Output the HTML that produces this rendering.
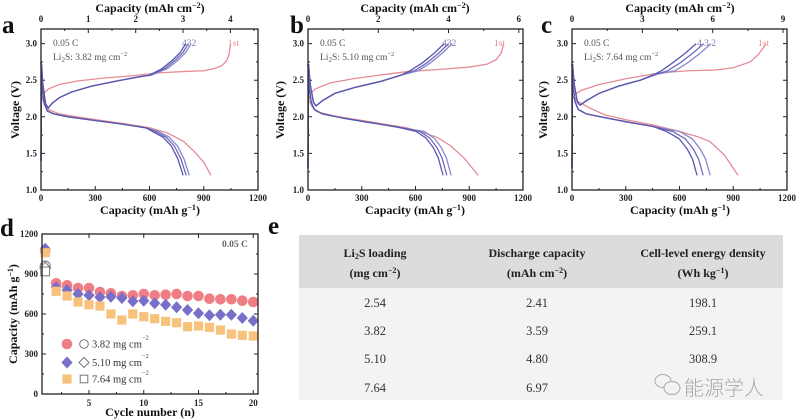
<!DOCTYPE html>
<html><head><meta charset="utf-8"><style>
html,body{margin:0;padding:0;background:#fff;}
svg{display:block;font-family:"Liberation Serif","Noto Serif CJK SC",serif;}
.t{font-size:9px;font-weight:bold;fill:#222;}
.lab{font-size:12px;font-weight:bold;fill:#111;}
.let{font-size:25px;font-weight:bold;fill:#111;}
.in{font-size:9.5px;fill:#555;}
.bl{fill:none;stroke-width:1.3;vector-effect:non-scaling-stroke;}
.ax{fill:none;stroke:#222;stroke-width:1.3;}
.tk{stroke:#222;stroke-width:1;}
.th{font-size:12px;font-weight:bold;fill:#222;}
.td{font-size:12.5px;fill:#333;}
</style></head><body>
<svg width="800" height="420" viewBox="0 0 800 420" xmlns="http://www.w3.org/2000/svg">
<defs>
<circle id="mc" r="5.3" fill="#ef7e84"/>
<polygon id="md" points="0,-6 5.6,0 0,6 -5.6,0" fill="#7870c8"/>
<rect id="ms" x="-4.6" y="-4.6" width="9.2" height="9.2" fill="#f7c27c"/>
</defs>

<!-- ============ PANEL A ============ -->
<text class="let" x="2" y="33">a</text>
<text class="lab" x="150" y="12" text-anchor="middle">Capacity (mAh cm<tspan dy="-4" font-size="8">−2</tspan><tspan dy="4">)</tspan></text>
<g class="t" text-anchor="middle">
<text x="41" y="22">0</text><text x="88.3" y="22">1</text><text x="135.7" y="22">2</text><text x="183" y="22">3</text><text x="230.4" y="22">4</text>
<text x="41" y="201">0</text><text x="95.25" y="201">300</text><text x="149.5" y="201">600</text><text x="203.75" y="201">900</text><text x="258" y="201">1200</text>
</g>
<g class="t" text-anchor="end">
<text x="37" y="193">1.0</text><text x="37" y="156.4">1.5</text><text x="37" y="119.8">2.0</text><text x="37" y="83.2">2.5</text><text x="37" y="46.6">3.0</text>
</g>
<text class="lab" x="150" y="214" text-anchor="middle">Capacity (mAh g<tspan dy="-4" font-size="8">−1</tspan><tspan dy="4">)</tspan></text>
<text class="lab" transform="translate(19,110) rotate(-90)" text-anchor="middle">Voltage (V)</text>
<path class="tk" d="M41,190v-4M95.25,190v-4M149.5,190v-4M203.75,190v-4M68.1,190v-2M122.4,190v-2M176.6,190v-2M230.9,190v-2
M88.3,29v4M135.7,29v4M183,29v4M230.4,29v4M64.7,29v2M112,29v2M159.4,29v2M206.7,29v2M254,29v2
M41,153.4h4M41,116.8h4M41,80.2h4M41,43.6h4M41,171.7h2M41,135.1h2M41,98.5h2M41,61.9h2
M258,153.4h-4M258,116.8h-4M258,80.2h-4M258,43.6h-4M258,171.7h-2M258,135.1h-2M258,98.5h-2M258,61.9h-2"/>
<text class="in" x="53" y="46">0.05 C</text>
<text class="in" x="53" y="60">Li<tspan dy="2" font-size="7">2</tspan><tspan dy="-2">S: 3.82 mg cm</tspan><tspan dy="-4" font-size="6.5">−2</tspan></text>
<text x="182" y="46" font-size="9.5" fill="#7a78b8">432</text>
<text x="228" y="46" font-size="9.5" fill="#e8909a">1st</text>
<g transform="translate(41,190) scale(0.180833,-73.18) translate(0,-1)">
<path class="bl" stroke="#e58c96" d="M0,2.22 L15,2.32 L40,2.38 L100,2.44 L200,2.49 L350,2.53 L500,2.56 L650,2.6 L800,2.62 L900,2.63 L960,2.66 L1000,2.7 L1025,2.76 L1040,2.85 L1048,3.0"/>
<path class="bl" stroke="#e58c96" d="M0,2.3 L15,2.2 L40,2.1 L100,2.04 L250,1.98 L450,1.91 L600,1.85 L700,1.78 L790,1.66 L850,1.52 L900,1.38 L940,1.2"/>
<path class="bl" stroke="#8b87cc" d="M0,1.4 L3,2.72 L10,2.45 L25,2.18 L40,2.12 L60,2.18 L100,2.26 L170,2.34 L280,2.42 L420,2.49 L550,2.55 L610,2.57 L700,2.66 L760,2.78 L800,2.88 L830,3.0"/>
<path class="bl" stroke="#6e6bbd" d="M0,1.4 L3,2.72 L10,2.45 L25,2.18 L40,2.12 L60,2.18 L100,2.26 L170,2.34 L280,2.42 L420,2.49 L550,2.55 L605,2.57 L685,2.66 L745,2.78 L785,2.88 L815,3.0"/>
<path class="bl" stroke="#5a58ad" d="M0,1.4 L3,2.72 L10,2.45 L25,2.18 L40,2.12 L60,2.18 L100,2.26 L170,2.34 L280,2.42 L420,2.49 L550,2.55 L600,2.57 L670,2.66 L730,2.78 L770,2.88 L800,3.0"/>
<path class="bl" stroke="#8b87cc" d="M0,2.75 L6,2.4 L18,2.18 L35,2.08 L70,2.04 L150,2.0 L300,1.95 L450,1.9 L580,1.85 L650,1.8 L710,1.72 L755,1.6 L790,1.43 L820,1.2"/>
<path class="bl" stroke="#6e6bbd" d="M0,2.75 L6,2.4 L18,2.18 L35,2.08 L70,2.04 L150,2.0 L300,1.95 L450,1.9 L580,1.85 L633,1.8 L693,1.72 L738,1.6 L773,1.43 L803,1.2"/>
<path class="bl" stroke="#5a58ad" d="M0,2.75 L6,2.4 L18,2.18 L35,2.08 L70,2.04 L150,2.0 L300,1.95 L450,1.9 L580,1.85 L616,1.8 L676,1.72 L721,1.6 L756,1.43 L786,1.2"/>
</g>
<rect class="ax" x="41" y="29" width="217" height="161"/>

<!-- ============ PANEL B ============ -->
<text class="let" x="290" y="33">b</text>
<text class="lab" x="415" y="12" text-anchor="middle">Capacity (mAh cm<tspan dy="-4" font-size="8">−2</tspan><tspan dy="4">)</tspan></text>
<g class="t" text-anchor="middle">
<text x="308" y="22">0</text><text x="378.3" y="22">2</text><text x="448.5" y="22">4</text><text x="518.8" y="22">6</text>
<text x="308" y="201">0</text><text x="361.75" y="201">300</text><text x="415.5" y="201">600</text><text x="469.25" y="201">900</text><text x="523" y="201">1200</text>
</g>
<g class="t" text-anchor="end">
<text x="304" y="193">1.0</text><text x="304" y="156.4">1.5</text><text x="304" y="119.8">2.0</text><text x="304" y="83.2">2.5</text><text x="304" y="46.6">3.0</text>
</g>
<text class="lab" x="415" y="214" text-anchor="middle">Capacity (mAh g<tspan dy="-4" font-size="8">−1</tspan><tspan dy="4">)</tspan></text>
<text class="lab" transform="translate(284,110) rotate(-90)" text-anchor="middle">Voltage (V)</text>
<path class="tk" d="M308,190v-4M361.75,190v-4M415.5,190v-4M469.25,190v-4M334.9,190v-2M388.6,190v-2M442.4,190v-2M496.1,190v-2
M378.3,29v4M448.5,29v4M518.8,29v4M343.1,29v2M413.4,29v2M483.7,29v2
M308,153.4h4M308,116.8h4M308,80.2h4M308,43.6h4M308,171.7h2M308,135.1h2M308,98.5h2M308,61.9h2
M523,153.4h-4M523,116.8h-4M523,80.2h-4M523,43.6h-4M523,171.7h-2M523,135.1h-2M523,98.5h-2M523,61.9h-2"/>
<text class="in" x="320" y="46">0.05 C</text>
<text class="in" x="320" y="60">Li<tspan dy="2" font-size="7">2</tspan><tspan dy="-2">S: 5.10 mg cm</tspan><tspan dy="-4" font-size="6.5">−2</tspan></text>
<text x="442" y="46" font-size="9.5" fill="#7a78b8">432</text>
<text x="494" y="46" font-size="9.5" fill="#e8909a">1st</text>
<g transform="translate(308,190) scale(0.179167,-73.18) translate(0,-1)">
<path class="bl" stroke="#e58c96" d="M0,2.2 L15,2.32 L40,2.38 L120,2.46 L250,2.52 L400,2.57 L560,2.62 L750,2.65 L900,2.68 L1000,2.72 L1050,2.78 L1080,2.88 L1092,3.0"/>
<path class="bl" stroke="#e58c96" d="M0,2.25 L20,2.15 L50,2.07 L150,2.01 L350,1.93 L550,1.85 L650,1.78 L720,1.72 L793,1.61 L870,1.44 L950,1.2"/>
<path class="bl" stroke="#8b87cc" d="M0,1.3 L3,2.72 L12,2.45 L30,2.2 L45,2.15 L80,2.22 L150,2.32 L260,2.4 L400,2.48 L520,2.57 L615,2.63 L685,2.74 L750,2.87 L805,3.0"/>
<path class="bl" stroke="#6e6bbd" d="M0,1.3 L3,2.72 L12,2.45 L30,2.2 L45,2.15 L80,2.22 L150,2.32 L260,2.4 L400,2.48 L520,2.57 L595,2.63 L665,2.74 L730,2.87 L785,3.0"/>
<path class="bl" stroke="#5a58ad" d="M0,1.3 L3,2.72 L12,2.45 L30,2.2 L45,2.15 L80,2.22 L150,2.32 L260,2.4 L400,2.48 L520,2.57 L570,2.63 L640,2.74 L705,2.87 L760,3.0"/>
<path class="bl" stroke="#8b87cc" d="M0,2.72 L6,2.4 L18,2.2 L35,2.1 L80,2.04 L200,1.98 L350,1.92 L500,1.86 L649,1.8 L704,1.71 L744,1.58 L772,1.44 L799,1.2"/>
<path class="bl" stroke="#6e6bbd" d="M0,2.72 L6,2.4 L18,2.2 L35,2.1 L80,2.04 L200,1.98 L350,1.92 L500,1.86 L625,1.8 L680,1.71 L720,1.58 L748,1.44 L775,1.2"/>
<path class="bl" stroke="#5a58ad" d="M0,2.72 L6,2.4 L18,2.2 L35,2.1 L80,2.04 L200,1.98 L350,1.92 L500,1.86 L604,1.8 L659,1.71 L699,1.58 L727,1.44 L754,1.2"/>
</g>
<rect class="ax" x="308" y="29" width="215" height="161"/>

<!-- ============ PANEL C ============ -->
<text class="let" x="541" y="33">c</text>
<text class="lab" x="680" y="12" text-anchor="middle">Capacity (mAh cm<tspan dy="-4" font-size="8">−2</tspan><tspan dy="4">)</tspan></text>
<g class="t" text-anchor="middle">
<text x="572" y="22">0</text><text x="642.4" y="22">3</text><text x="712.7" y="22">6</text><text x="783" y="22">9</text>
<text x="572" y="201">0</text><text x="625.75" y="201">300</text><text x="679.5" y="201">600</text><text x="733.25" y="201">900</text><text x="787" y="201">1200</text>
</g>
<g class="t" text-anchor="end">
<text x="568" y="193">1.0</text><text x="568" y="156.4">1.5</text><text x="568" y="119.8">2.0</text><text x="568" y="83.2">2.5</text><text x="568" y="46.6">3.0</text>
</g>
<text class="lab" x="680" y="214" text-anchor="middle">Capacity (mAh g<tspan dy="-4" font-size="8">−1</tspan><tspan dy="4">)</tspan></text>
<text class="lab" transform="translate(547,110) rotate(-90)" text-anchor="middle">Voltage (V)</text>
<path class="tk" d="M572,190v-4M625.75,190v-4M679.5,190v-4M733.25,190v-4M598.9,190v-2M652.6,190v-2M706.4,190v-2M760.1,190v-2
M642.4,29v4M712.7,29v4M783,29v4M607.2,29v2M677.5,29v2M747.9,29v2
M572,153.4h4M572,116.8h4M572,80.2h4M572,43.6h4M572,171.7h2M572,135.1h2M572,98.5h2M572,61.9h2
M787,153.4h-4M787,116.8h-4M787,80.2h-4M787,43.6h-4M787,171.7h-2M787,135.1h-2M787,98.5h-2M787,61.9h-2"/>
<text class="in" x="584" y="46">0.05 C</text>
<text class="in" x="584" y="60">Li<tspan dy="2" font-size="7">2</tspan><tspan dy="-2">S: 7.64 mg cm</tspan><tspan dy="-4" font-size="6.5">−2</tspan></text>
<text x="697" y="46" font-size="9.5" fill="#7a78b8">4 3 2</text>
<text x="758" y="46" font-size="9.5" fill="#e8909a">1st</text>
<g transform="translate(572,190) scale(0.179167,-73.18) translate(0,-1)">
<path class="bl" stroke="#e58c96" d="M0,2.22 L15,2.3 L50,2.36 L150,2.44 L300,2.52 L491,2.6 L650,2.63 L800,2.64 L900,2.67 L994,2.75 L1040,2.85 L1070,2.95 L1083,3.0"/>
<path class="bl" stroke="#e58c96" d="M0,2.28 L40,2.2 L100,2.12 L180,2.03 L300,1.96 L450,1.89 L600,1.8 L700,1.73 L771,1.66 L850,1.48 L927,1.2"/>
<path class="bl" stroke="#8b87cc" d="M0,1.3 L3,2.72 L12,2.45 L30,2.2 L45,2.16 L80,2.22 L150,2.32 L260,2.42 L380,2.5 L470,2.58 L576,2.63 L646,2.74 L716,2.87 L776,3.0"/>
<path class="bl" stroke="#6e6bbd" d="M0,1.3 L3,2.72 L12,2.45 L30,2.2 L45,2.16 L80,2.22 L150,2.32 L260,2.42 L380,2.5 L470,2.58 L535,2.63 L605,2.74 L675,2.87 L735,3.0"/>
<path class="bl" stroke="#5a58ad" d="M0,1.3 L3,2.72 L12,2.45 L30,2.2 L45,2.16 L80,2.22 L150,2.32 L260,2.42 L380,2.5 L460,2.58 L500,2.63 L563,2.74 L633,2.87 L693,3.0"/>
<path class="bl" stroke="#8b87cc" d="M0,2.72 L6,2.4 L18,2.2 L35,2.1 L80,2.04 L200,1.98 L330,1.92 L450,1.87 L601,1.8 L671,1.7 L716,1.56 L746,1.42 L771,1.2"/>
<path class="bl" stroke="#6e6bbd" d="M0,2.72 L6,2.4 L18,2.2 L35,2.1 L80,2.04 L200,1.98 L330,1.92 L450,1.87 L562,1.8 L632,1.7 L677,1.56 L707,1.42 L732,1.2"/>
<path class="bl" stroke="#5a58ad" d="M0,2.72 L6,2.4 L18,2.2 L35,2.1 L80,2.04 L200,1.98 L330,1.92 L450,1.87 L528,1.8 L598,1.7 L643,1.56 L673,1.42 L698,1.2"/>
</g>
<rect class="ax" x="572" y="29" width="215" height="161"/>

<!-- ============ PANEL D ============ -->
<text class="let" x="0" y="236">d</text>
<g class="t" text-anchor="end">
<text x="38" y="397">0</text><text x="38" y="357">300</text><text x="38" y="317">600</text><text x="38" y="277">900</text><text x="38" y="237">1200</text>
</g>
<g class="t" text-anchor="middle">
<text x="89" y="406">5</text><text x="143.75" y="406">10</text><text x="198.5" y="406">15</text><text x="253.25" y="406">20</text>
</g>
<text class="lab" x="150" y="416" text-anchor="middle">Cycle number (n)</text>
<text class="lab" transform="translate(17,314) rotate(-90)" text-anchor="middle">Capacity (mAh g<tspan dy="-4" font-size="8">−1</tspan><tspan dy="4">)</tspan></text>
<path class="tk" d="M89,394v-4M143.75,394v-4M198.5,394v-4M253.25,394v-4M61.6,394v-2M116.4,394v-2M171.1,394v-2M225.9,394v-2
M89,234v4M143.75,234v4M198.5,234v4M253.25,234v4
M42,354h4M42,314h4M42,274h4M42,374h2M42,334h2M42,294h2M42,254h2
M258,354h-4M258,314h-4M258,274h-4M258,374h-2M258,334h-2M258,294h-2M258,254h-2"/>
<text x="222" y="247" font-size="9.5" font-weight="bold" fill="#666">0.05 C</text>
<!-- open symbols cycle 1 -->
<g fill="#fff" stroke="#777" stroke-width="1">
<circle cx="45.2" cy="266" r="5"/>
<polygon points="45.2,262 50.6,268 45.2,274 39.8,268"/>
<rect x="40.8" y="267" width="8.8" height="8.8"/>
</g>
<!-- circles -->
<g>
<use href="#mc" x="45.2" y="251.3"/><use href="#mc" x="56.15" y="283.3"/><use href="#mc" x="67.1" y="285.3"/><use href="#mc" x="78.05" y="288"/><use href="#mc" x="89" y="288"/><use href="#mc" x="99.95" y="292"/><use href="#mc" x="110.9" y="293.3"/><use href="#mc" x="121.85" y="296"/><use href="#mc" x="132.8" y="295.3"/><use href="#mc" x="143.75" y="294"/><use href="#mc" x="154.7" y="295.3"/><use href="#mc" x="165.65" y="294.7"/><use href="#mc" x="176.6" y="294"/><use href="#mc" x="187.55" y="296"/><use href="#mc" x="198.5" y="296"/><use href="#mc" x="209.45" y="298.7"/><use href="#mc" x="220.4" y="299.3"/><use href="#mc" x="231.35" y="299.3"/><use href="#mc" x="242.3" y="300.7"/><use href="#mc" x="253.25" y="302"/>
</g>
<g>
<use href="#md" x="45.2" y="248.7"/><use href="#md" x="56.15" y="287.3"/><use href="#md" x="67.1" y="290"/><use href="#md" x="78.05" y="294"/><use href="#md" x="89" y="295.3"/><use href="#md" x="99.95" y="297.3"/><use href="#md" x="110.9" y="296.7"/><use href="#md" x="121.85" y="298"/><use href="#md" x="132.8" y="301.3"/><use href="#md" x="143.75" y="300.7"/><use href="#md" x="154.7" y="303.3"/><use href="#md" x="165.65" y="304.7"/><use href="#md" x="176.6" y="307.3"/><use href="#md" x="187.55" y="310"/><use href="#md" x="198.5" y="313.3"/><use href="#md" x="209.45" y="315.3"/><use href="#md" x="220.4" y="314.7"/><use href="#md" x="231.35" y="314.7"/><use href="#md" x="242.3" y="318"/><use href="#md" x="253.25" y="320.7"/>
</g>
<g>
<use href="#ms" x="45.2" y="252.7"/><use href="#ms" x="56.15" y="291.3"/><use href="#ms" x="67.1" y="296"/><use href="#ms" x="78.05" y="302"/><use href="#ms" x="89" y="304.7"/><use href="#ms" x="99.95" y="306"/><use href="#ms" x="110.9" y="314"/><use href="#ms" x="121.85" y="320"/><use href="#ms" x="132.8" y="314"/><use href="#ms" x="143.75" y="316.7"/><use href="#ms" x="154.7" y="318.7"/><use href="#ms" x="165.65" y="321.3"/><use href="#ms" x="176.6" y="322.7"/><use href="#ms" x="187.55" y="326.7"/><use href="#ms" x="198.5" y="326"/><use href="#ms" x="209.45" y="327.3"/><use href="#ms" x="220.4" y="330"/><use href="#ms" x="231.35" y="334"/><use href="#ms" x="242.3" y="335.3"/><use href="#ms" x="253.25" y="336"/>
</g>
<!-- legend -->
<use href="#mc" x="67" y="344"/>
<circle cx="84" cy="344" r="4.3" fill="none" stroke="#777" stroke-width="1"/>
<text x="92" y="347.5" font-size="10.5" fill="#333">3.82 mg cm<tspan dy="-8" font-size="6.5">−2</tspan></text>
<use href="#md" x="67" y="362.5"/>
<polygon points="84,357.5 89,362.5 84,367.5 79,362.5" fill="none" stroke="#777" stroke-width="1"/>
<text x="92" y="366" font-size="10.5" fill="#333">5.10 mg cm<tspan dy="-8" font-size="6.5">−2</tspan></text>
<use href="#ms" x="67" y="379"/>
<rect x="80.2" y="375.2" width="7.6" height="7.6" fill="none" stroke="#777" stroke-width="1"/>
<text x="92" y="382.5" font-size="10.5" fill="#333">7.64 mg cm<tspan dy="-8" font-size="6.5">−2</tspan></text>
<rect class="ax" x="42" y="234" width="216" height="160"/>

<!-- ============ PANEL E ============ -->
<text class="let" x="268" y="234">e</text>
<rect x="299" y="235" width="484" height="53" fill="#dcdcdc"/>
<rect x="299" y="288" width="484" height="112" fill="#f3f3f3"/>
<g text-anchor="middle">
<text class="th" x="375" y="257">Li<tspan dy="2" font-size="8">2</tspan><tspan dy="-2">S loading</tspan></text>
<text class="th" x="375" y="277">(mg cm<tspan dy="-4" font-size="8">−2</tspan><tspan dy="4">)</tspan></text>
<text class="th" x="537" y="257">Discharge capacity</text>
<text class="th" x="537" y="277">(mAh cm<tspan dy="-4" font-size="8">−2</tspan><tspan dy="4">)</tspan></text>
<text class="th" x="703" y="257">Cell-level energy density</text>
<text class="th" x="703" y="277">(Wh kg<tspan dy="-4" font-size="8">−1</tspan><tspan dy="4">)</tspan></text>
<text class="td" x="375" y="307">2.54</text><text class="td" x="537" y="307">2.41</text><text class="td" x="703" y="307">198.1</text>
<text class="td" x="375" y="335">3.82</text><text class="td" x="537" y="335">3.59</text><text class="td" x="703" y="335">259.1</text>
<text class="td" x="375" y="363">5.10</text><text class="td" x="537" y="363">4.80</text><text class="td" x="703" y="363">308.9</text>
<text class="td" x="375" y="392">7.64</text><text class="td" x="537" y="392">6.97</text>
</g>
<!-- watermark -->
<g fill="none" stroke="#aaa" stroke-width="1">
<ellipse cx="663" cy="381" rx="8" ry="6.5"/>
<ellipse cx="672" cy="388" rx="8" ry="6.5" fill="#f3f3f3"/>
</g>
<text x="684" y="395" font-size="20" fill="#a8a8a8" font-family="'Liberation Sans','Noto Sans CJK SC',sans-serif" font-weight="300">能源学人</text>
</svg>
</body></html>
